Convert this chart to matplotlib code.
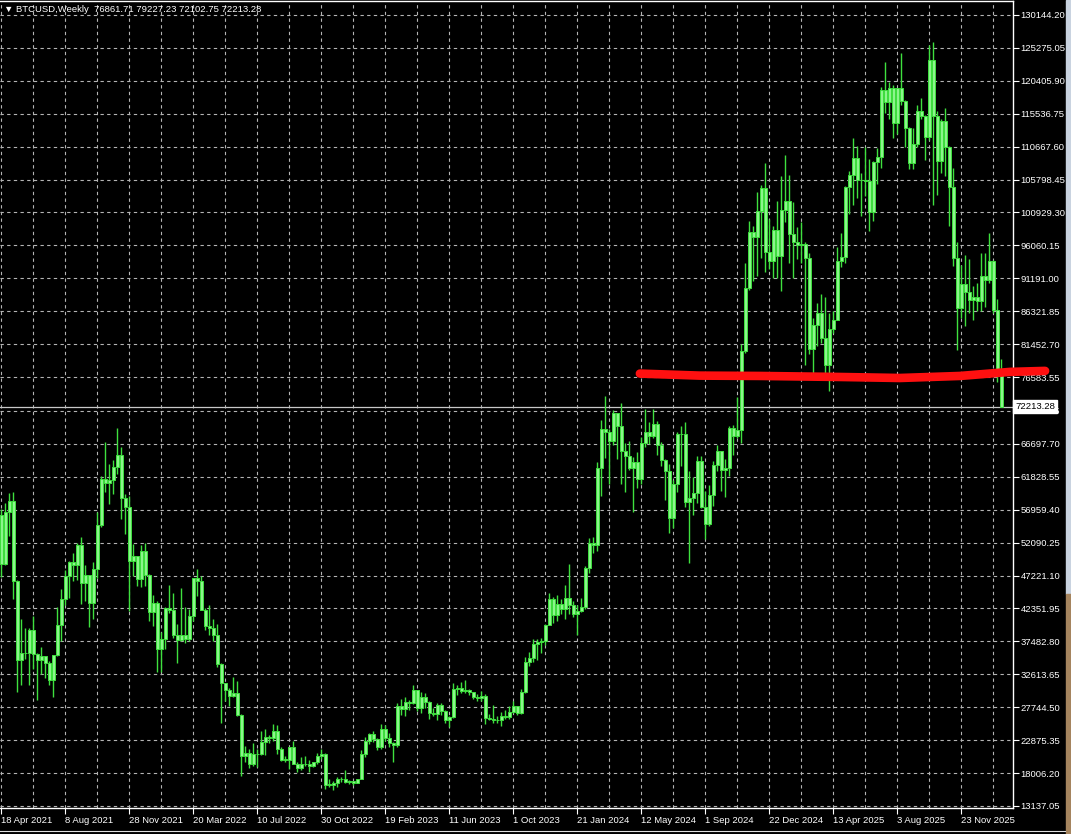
import matplotlib
matplotlib.use("Agg")
import matplotlib.pyplot as plt
import matplotlib.transforms as mtransforms
from matplotlib.patches import Rectangle
import numpy as np

plt.rcParams['font.family'] = ['Liberation Sans', 'DejaVu Sans']

# BTCUSD weekly candles, thousands of USD
first_open = 56.2
closes = [
    49.0, 56.6, 58.2, 46.4, 34.7, 35.7, 35.8, 39.1, 35.6, 34.7,
    35.3, 34.3, 31.8, 35.4, 39.9, 43.8, 47.1, 49.3, 48.8, 51.8,
    46.1, 47.3, 43.2, 48.2, 54.7, 61.5, 60.9, 61.3, 63.3, 65.0,
    58.7, 57.3, 49.4, 50.1, 46.7, 50.8, 47.3, 41.9, 43.1, 36.3,
    37.9, 42.4, 42.2, 38.4, 37.7, 38.4, 37.8, 41.3, 46.8, 46.4,
    42.2, 39.7, 39.5, 38.5, 34.1, 31.3, 30.3, 29.4, 29.9, 26.6,
    20.6, 21.0, 19.3, 20.8, 20.8, 22.6, 23.3, 23.2, 24.3, 21.5,
    20.0, 20.0, 21.8, 19.4, 18.8, 19.3, 19.4, 19.1, 19.6, 20.6,
    20.9, 16.3, 16.3, 16.5, 17.1, 17.1, 16.7, 16.8, 16.6, 17.1,
    20.9, 22.7, 23.8, 23.0, 21.8, 24.6, 23.2, 22.4, 22.1, 28.0,
    27.5, 28.5, 28.3, 30.3, 27.6, 29.2, 28.5, 26.9, 26.8, 28.1,
    27.2, 25.9, 26.3, 30.5, 30.6, 30.2, 30.3, 30.0, 29.3, 29.1,
    29.4, 26.1, 26.0, 25.9, 25.8, 26.5, 26.3, 27.0, 27.9, 26.9,
    30.0, 34.5, 35.0, 37.1, 37.4, 37.5, 39.9, 43.8, 41.4, 43.0,
    42.3, 43.9, 42.8, 41.6, 42.0, 42.6, 48.3, 52.1, 51.7, 63.1,
    68.9, 68.4, 67.2, 71.3, 69.4, 65.7, 64.9, 63.1, 64.0, 61.5,
    66.9, 68.5, 67.8, 69.6, 66.6, 64.3, 62.7, 55.8, 60.8, 68.1,
    68.2, 58.1, 58.7, 59.4, 64.2, 57.3, 54.8, 59.1, 63.6, 65.6,
    62.8, 63.2, 69.0, 67.9, 68.7, 80.4, 89.8, 98.0, 97.3, 101.1,
    104.5, 95.1, 93.7, 98.3, 94.5, 101.3, 102.7, 97.7, 96.5, 96.1,
    96.2, 94.2, 80.7, 84.3, 86.1, 82.4, 78.4, 83.7, 85.1, 93.8,
    94.3, 104.7, 106.5, 109.0, 105.8, 105.7, 105.6, 101.0, 108.4, 109.2,
    119.1, 117.3, 119.4, 114.2, 119.3, 117.4, 113.5, 108.3, 111.1, 115.9,
    115.2, 112.1, 123.5, 115.2, 108.6, 114.5, 110.6, 104.7, 94.2, 86.8,
    90.4, 89.2, 88.0, 88.5, 87.8, 91.5, 90.9, 93.7, 86.5, 76.86,
    72.21,
]
highs = [
    57.0, 58.0, 59.5, 59.6, 46.6, 40.8, 39.5, 39.5, 41.3, 35.7,
    36.6, 35.3, 34.6, 35.4, 42.6, 45.3, 48.1, 49.4, 50.5, 52.0,
    52.9, 48.8, 47.3, 49.2, 56.6, 62.0, 67.0, 63.7, 64.3, 69.0,
    66.3, 59.3, 59.0, 51.9, 50.1, 51.8, 52.0, 47.5, 44.4, 43.5,
    38.9, 42.6, 45.8, 44.7, 40.0, 45.4, 42.6, 42.3, 46.9, 48.2,
    47.2, 42.4, 42.9, 40.8, 40.0, 34.3, 31.4, 30.6, 32.2, 31.7,
    26.8, 22.0, 21.5, 22.5, 21.6, 24.3, 24.6, 23.6, 25.2, 25.1,
    21.8, 20.6, 21.9, 22.7, 19.7, 20.4, 20.5, 19.9, 19.7, 21.0,
    21.5, 21.0, 17.2, 16.8, 17.4, 17.4, 18.4, 17.0, 16.9, 17.2,
    21.4, 23.3, 23.9, 24.2, 23.2, 25.2, 25.1, 23.9, 22.6, 28.4,
    28.9, 29.2, 28.8, 31.0, 30.3, 30.0, 29.8, 28.6, 27.6, 28.4,
    28.4, 27.4, 26.4, 31.4, 31.0, 31.5, 31.8, 30.4, 30.0, 29.7,
    30.2, 29.7, 26.8, 28.1, 26.4, 27.0, 27.4, 28.0, 28.6, 28.0,
    30.4, 35.2, 35.9, 37.9, 37.9, 38.0, 40.0, 44.7, 44.0, 44.3,
    43.8, 45.9, 49.0, 43.5, 42.8, 43.9, 48.6, 52.8, 52.9, 64.0,
    70.2, 73.8, 68.9, 71.7, 71.3, 72.8, 66.9, 67.2, 64.7, 65.5,
    67.7, 71.9, 70.0, 71.9, 70.1, 67.0, 64.5, 63.8, 61.4, 68.4,
    69.4, 70.0, 62.7, 61.8, 64.9, 64.9, 59.8, 60.6, 64.1, 66.5,
    65.6, 64.5, 69.4, 69.5, 73.6, 81.5, 93.5, 99.6, 98.9, 104.0,
    105.0, 108.3, 99.9, 98.9, 102.7, 106.3, 109.4, 106.5, 102.5, 98.8,
    99.5, 96.5, 95.0, 85.3, 87.5, 88.8, 88.5, 86.1, 86.4, 95.8,
    97.9, 104.9, 107.1, 112.0, 110.7, 106.8, 110.6, 108.9, 108.5, 110.5,
    119.5, 123.2, 120.2, 119.8, 119.3, 124.5, 117.6, 113.6, 113.4, 116.8,
    117.9, 115.4, 125.7, 126.2, 115.9, 114.8, 116.4, 110.8, 107.5, 96.6,
    93.1, 94.6, 94.0, 90.0, 90.5, 94.9, 94.9, 97.9, 93.9, 88.2,
    79.23,
]
lows = [
    47.0, 48.8, 53.1, 43.8, 30.0, 31.1, 34.9, 31.0, 33.4, 28.8,
    32.7, 32.1, 31.0, 29.3, 35.3, 37.6, 42.8, 43.9, 46.4, 46.5,
    43.0, 43.4, 39.6, 40.8, 46.9, 54.4, 59.6, 57.8, 59.3, 62.3,
    55.6, 53.3, 42.0, 47.1, 45.7, 45.6, 45.7, 40.5, 39.7, 33.0,
    32.9, 36.3, 41.7, 38.0, 34.3, 37.5, 37.2, 37.6, 40.5, 44.2,
    42.1, 39.2, 38.5, 37.6, 33.7, 25.4, 28.7, 28.0, 29.3, 26.5,
    17.6, 19.6, 18.8, 19.0, 18.9, 20.7, 20.7, 22.4, 22.7, 20.8,
    19.8, 19.6, 18.6, 19.3, 18.2, 18.5, 19.1, 18.2, 18.9, 19.3,
    20.1, 15.6, 16.0, 15.5, 16.0, 16.7, 16.6, 16.4, 16.3, 16.5,
    17.1, 20.4, 22.3, 22.6, 21.4, 21.5, 22.8, 21.9, 19.6, 21.9,
    26.6, 26.5, 27.3, 28.2, 27.2, 26.9, 27.7, 26.0, 26.4, 25.9,
    26.6, 25.4, 24.8, 26.2, 29.6, 29.8, 29.9, 29.6, 29.0, 28.7,
    28.7, 25.2, 25.8, 25.4, 25.4, 24.9, 26.0, 26.0, 26.9, 26.6,
    26.8, 29.9, 33.9, 34.5, 34.8, 35.7, 36.9, 39.9, 40.2, 40.5,
    41.5, 40.8, 41.5, 41.1, 38.5, 41.8, 42.3, 47.6, 50.5, 50.9,
    59.0, 64.6, 60.7, 66.6, 64.5, 60.7, 59.6, 62.8, 56.6, 60.2,
    60.8, 66.3, 66.7, 67.6, 65.1, 63.4, 58.4, 53.5, 54.3, 59.6,
    63.5, 57.3, 49.1, 56.2, 57.9, 57.2, 52.6, 54.6, 57.5, 62.7,
    59.8, 58.9, 62.0, 65.0, 67.5, 66.8, 80.2, 89.4, 90.8, 91.5,
    94.2, 92.2, 92.6, 91.3, 91.2, 89.3, 99.5, 93.4, 91.2, 94.1,
    93.4, 78.3, 80.0, 76.6, 81.2, 81.6, 77.2, 74.5, 83.1, 85.0,
    92.8, 93.4, 100.7, 102.1, 103.1, 100.4, 103.4, 98.2, 99.6, 105.1,
    107.5, 115.7, 114.7, 111.9, 112.6, 116.8, 110.6, 107.3, 107.3, 110.6,
    114.7, 108.7, 111.6, 102.0, 103.5, 106.7, 106.3, 98.9, 93.0, 80.6,
    85.3, 84.1, 86.0, 85.1, 86.3, 86.3, 87.0, 90.5, 86.0, 75.8,
    72.10,
]

date_labels = ['18 Apr 2021', '8 Aug 2021', '28 Nov 2021', '20 Mar 2022',
               '10 Jul 2022', '30 Oct 2022', '19 Feb 2023', '11 Jun 2023',
               '1 Oct 2023', '21 Jan 2024', '12 May 2024', '1 Sep 2024',
               '22 Dec 2024', '13 Apr 2025', '3 Aug 2025', '23 Nov 2025']
price_ticks = [130144.20, 125275.05, 120405.90, 115536.75, 110667.60,
               105798.45, 100929.30, 96060.15, 91191.00, 86321.85,
               81452.70, 76583.55, 71566.85, 66697.70, 61828.55,
               56959.40, 52090.25, 47221.10, 42351.95, 37482.80,
               32613.65, 27744.50, 22875.35, 18006.20, 13137.05]
last_price = 72213.28
header = "BTCUSD,Weekly  76861.71 79227.23 72102.75 72213.28"

# hand drawn red line (bar index, price)
trend_x = [159.6, 174.6, 189.6, 209.6, 224.6, 239.6, 252.1, 260.9]
trend_y = [77100, 76800, 76750, 76600, 76450, 76750, 77350, 77500]

GREEN = '#3ee03e'
FILL = '#8cf58c'
GRID = '#b4b4b4'

c = np.array(closes) * 1000
o = np.array([first_open] + closes[:-1]) * 1000
h = np.array(highs) * 1000
l = np.array(lows) * 1000
idx = np.arange(len(c))

W, H = 1071, 834
fig = plt.figure(figsize=(W / 100, H / 100), dpi=100, facecolor='black')
ax = fig.add_axes([0, 26 / H, 1013 / W, 807 / H])
ax.set_facecolor('black')
ax.set_xlim(-0.375, 252.875)
ax.set_ylim(12841, 132215)

# grid
ax.vlines(np.arange(0, 253, 8), 12841, 132215, colors=GRID, lw=0.8,
          linestyles=(0, (3, 3)), zorder=1)
ax.hlines(price_ticks, -0.375, 252.875, colors=GRID, lw=0.8,
          linestyles=(0, (3, 3)), zorder=1)

# candles
ax.vlines(idx, l, h, colors=GREEN, lw=1.0, zorder=3)
body_lo = np.minimum(o, c)
body_h = np.maximum(np.abs(c - o), 90)
ax.bar(idx, body_h, bottom=body_lo, width=0.7, color=FILL,
       edgecolor=GREEN, linewidth=0.7, zorder=4)

# last price line and label
ax.axhline(last_price, color='#c8c8c8', lw=0.9, zorder=2)
trans = mtransforms.blended_transform_factory(ax.transAxes, ax.transData)
ax.text(1.002, last_price, '72213.28', transform=trans, ha='left', va='center',
        fontsize=6.8, color='black', zorder=10, clip_on=False,
        bbox=dict(boxstyle='square,pad=0.2', fc='white', ec='white'))

# red line
ax.plot(trend_x, trend_y, color='#ff1010', lw=6.2, solid_capstyle='round',
        clip_on=False, zorder=8)

# axes styling
ax.spines['left'].set_visible(False)
for side in ['right', 'bottom', 'top']:
    ax.spines[side].set_color('white')
    ax.spines[side].set_linewidth(1.0)

ax.yaxis.tick_right()
ax.set_yticks(price_ticks)
ax.set_yticklabels([f'{v:.2f}' for v in price_ticks])
ax.set_xticks(np.arange(0, 241, 16))
ax.set_xticklabels(date_labels, ha='left')
ax.tick_params(axis='both', colors='white', direction='out', length=4,
               width=0.8, labelsize=6.8, labelcolor='white')
ax.tick_params(axis='y', pad=1.5)
ax.tick_params(axis='x', pad=2)

fig.text(4 / W, 1 - 10 / H, '\u25bc ' + header, color='white', fontsize=6.8,
         va='center', ha='left', family=['Liberation Sans', 'DejaVu Sans'])

# window frame bits: bottom edge and desktop strip at the right
fig.add_artist(plt.Line2D([0, 1065 / W], [3 / H, 3 / H], color='#e0e0e0',
                          lw=0.8, transform=fig.transFigure))
fig.patches.append(Rectangle((1066 / W, 240 / H), 5 / W, 594 / H,
                             transform=fig.transFigure, color='#c9d3e0', zorder=0))
fig.patches.append(Rectangle((1066 / W, 0), 5 / W, 240 / H,
                             transform=fig.transFigure, color='#a5845e', zorder=0))

fig.savefig('out.png', dpi=100, facecolor='black')
